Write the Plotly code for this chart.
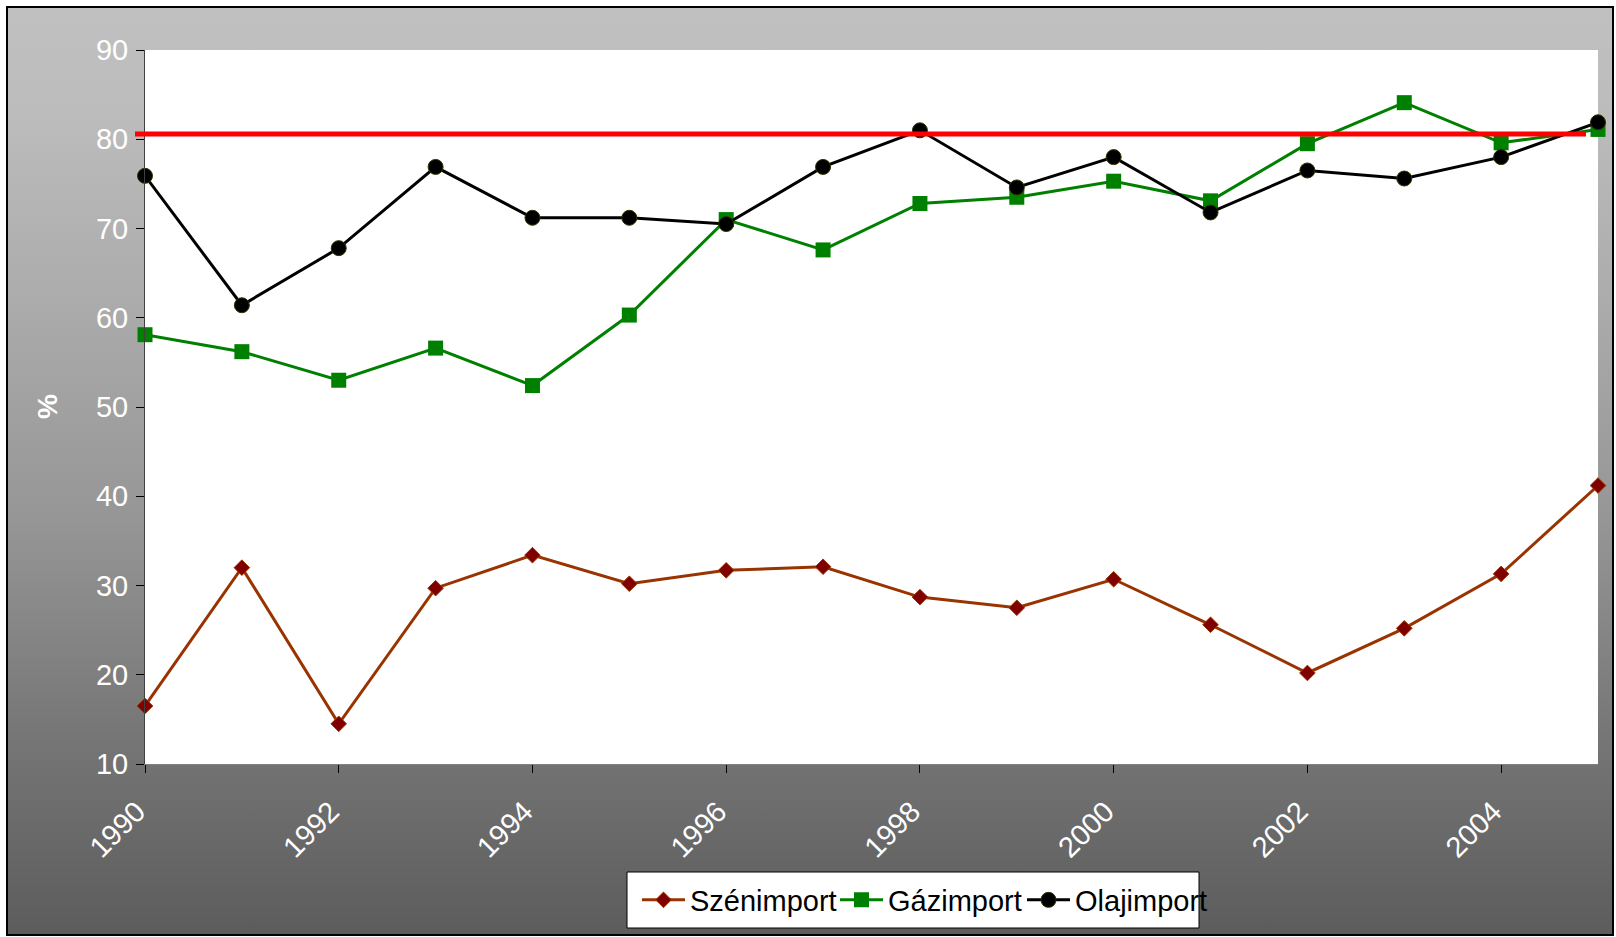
import base64
import plotly.graph_objects as go

# Import dependency (%) by fuel, 1990-2005
years = list(range(1990, 2006))
szenimport = [16.5, 32.0, 14.5, 29.7, 33.4, 30.2, 31.7, 32.1, 28.7, 27.5, 30.7, 25.6, 20.2, 25.2, 31.3, 41.2]
gazimport = [58.1, 56.2, 53.0, 56.6, 52.4, 60.3, 71.0, 67.6, 72.8, 73.5, 75.3, 73.1, 79.5, 84.1, 79.6, 81.1]
olajimport = [75.9, 61.4, 67.8, 76.9, 71.2, 71.2, 70.5, 76.9, 81.0, 74.6, 78.0, 71.8, 76.5, 75.6, 78.0, 81.9]
reference_level = 80.6

y_ticks = [10, 20, 30, 40, 50, 60, 70, 80, 90]
x_ticks = list(range(1990, 2006, 2))

W, H = 1616, 937
L, R, T, B = 145, 1598, 50, 764  # plot area in pixels
FONT = "Arial, Liberation Sans, sans-serif"


def px(xpix):
    return (xpix - L) / (R - L)


def py(ypix):
    return (B - ypix) / (B - T)


# vertical grey gradient for the chart background
stops = [(0.0, 192), (0.10, 189), (0.31, 172), (0.55, 150), (0.77, 120), (1.0, 92)]
stop_xml = "".join(
    f"<stop offset='{o}' stop-color='rgb({v},{v},{v})'/>" for o, v in stops
)
svg = (
    "<svg xmlns='http://www.w3.org/2000/svg' width='100' height='100' "
    "viewBox='0 0 100 100' preserveAspectRatio='none'>"
    "<defs><linearGradient id='g' x1='0' y1='0' x2='0' y2='1'>"
    f"{stop_xml}</linearGradient></defs>"
    "<rect x='0' y='0' width='100' height='100' fill='url(#g)'/></svg>"
)
bg_uri = "data:image/svg+xml;base64," + base64.b64encode(svg.encode()).decode()

fig = go.Figure()

fig.add_trace(go.Scatter(
    x=years, y=szenimport, name="Szénimport", mode="lines+markers",
    line=dict(color="#993300", width=3),
    marker=dict(symbol="diamond", size=12, color="#800000",
                line=dict(color="#993300", width=1)),
    cliponaxis=False, legend="legend",
))
fig.add_trace(go.Scatter(
    x=years, y=gazimport, name="Gázimport", mode="lines+markers",
    line=dict(color="#008000", width=3),
    marker=dict(symbol="square", size=15, color="#008000"),
    cliponaxis=False, legend="legend2",
))
fig.add_trace(go.Scatter(
    x=years, y=olajimport, name="Olajimport", mode="lines+markers",
    line=dict(color="#000000", width=3),
    marker=dict(symbol="circle", size=15, color="#000000",
                line=dict(color="#333300", width=1)),
    cliponaxis=False, legend="legend3",
))

shapes = [
    # chart frame
    dict(type="rect", xref="paper", yref="paper", layer="below",
         x0=px(7), x1=px(1613), y0=py(935), y1=py(7),
         line=dict(color="black", width=2), fillcolor="rgba(0,0,0,0)"),
    # plot area
    dict(type="rect", xref="paper", yref="paper", layer="below",
         x0=0, x1=1, y0=0, y1=1, line=dict(width=0), fillcolor="white"),
    # legend box
    dict(type="rect", xref="paper", yref="paper", layer="below",
         x0=px(627), x1=px(1199), y0=py(928), y1=py(872),
         line=dict(color="black", width=1), fillcolor="white"),
    # reference level
    dict(type="line", xref="paper", yref="y", layer="above",
         x0=px(135), x1=px(1586), y0=reference_level, y1=reference_level,
         line=dict(color="#ff0000", width=5)),
]

legend_style = dict(
    orientation="h", xref="paper", yref="paper", xanchor="left", yanchor="middle",
    bgcolor="rgba(0,0,0,0)", borderwidth=0, itemwidth=43,
    font=dict(family=FONT, size=29, color="black"),
)

fig.update_layout(
    width=W, height=H,
    margin=dict(l=L, r=W - R, t=T, b=H - B, autoexpand=False),
    paper_bgcolor="white", plot_bgcolor="white",
    font=dict(family=FONT, size=29, color="white"),
    showlegend=True,
    legend=dict(legend_style, x=px(690 - 53), y=py(900)),
    legend2=dict(legend_style, x=px(888 - 53), y=py(900)),
    legend3=dict(legend_style, x=px(1075 - 53), y=py(900)),
    images=[dict(source=bg_uri, xref="paper", yref="paper", layer="below",
                 x=px(7), y=py(7), sizex=px(1613) - px(7), sizey=py(7) - py(935),
                 xanchor="left", yanchor="top", sizing="stretch")],
    shapes=shapes,
    annotations=[dict(text="<b>%</b>", xref="paper", yref="paper", x=px(47), y=py(407),
                      xanchor="center", yanchor="middle",
                      showarrow=False, textangle=-90,
                      font=dict(family=FONT, size=28, color="white"))],
    xaxis=dict(
        range=[1990, 2005], tickmode="array", tickvals=x_ticks,
        ticktext=[str(v) for v in x_ticks], tickangle=-45,
        ticks="outside", ticklen=8, tickwidth=1, tickcolor="black",
        showline=True, linecolor="#808080", linewidth=1, showgrid=False,
        zeroline=False, tickfont=dict(family=FONT, size=29, color="white"),
        ticklabelstandoff=10, ticklabelshift=-8,
    ),
    yaxis=dict(
        range=[10, 90], tickmode="array", tickvals=y_ticks,
        ticks="outside", ticklen=8, tickwidth=1, tickcolor="black",
        showline=True, linecolor="#404040", linewidth=1, showgrid=False,
        zeroline=False, tickfont=dict(family=FONT, size=29, color="white"),
        ticklabelstandoff=2,
    ),
)

fig.write_html("out.html")
